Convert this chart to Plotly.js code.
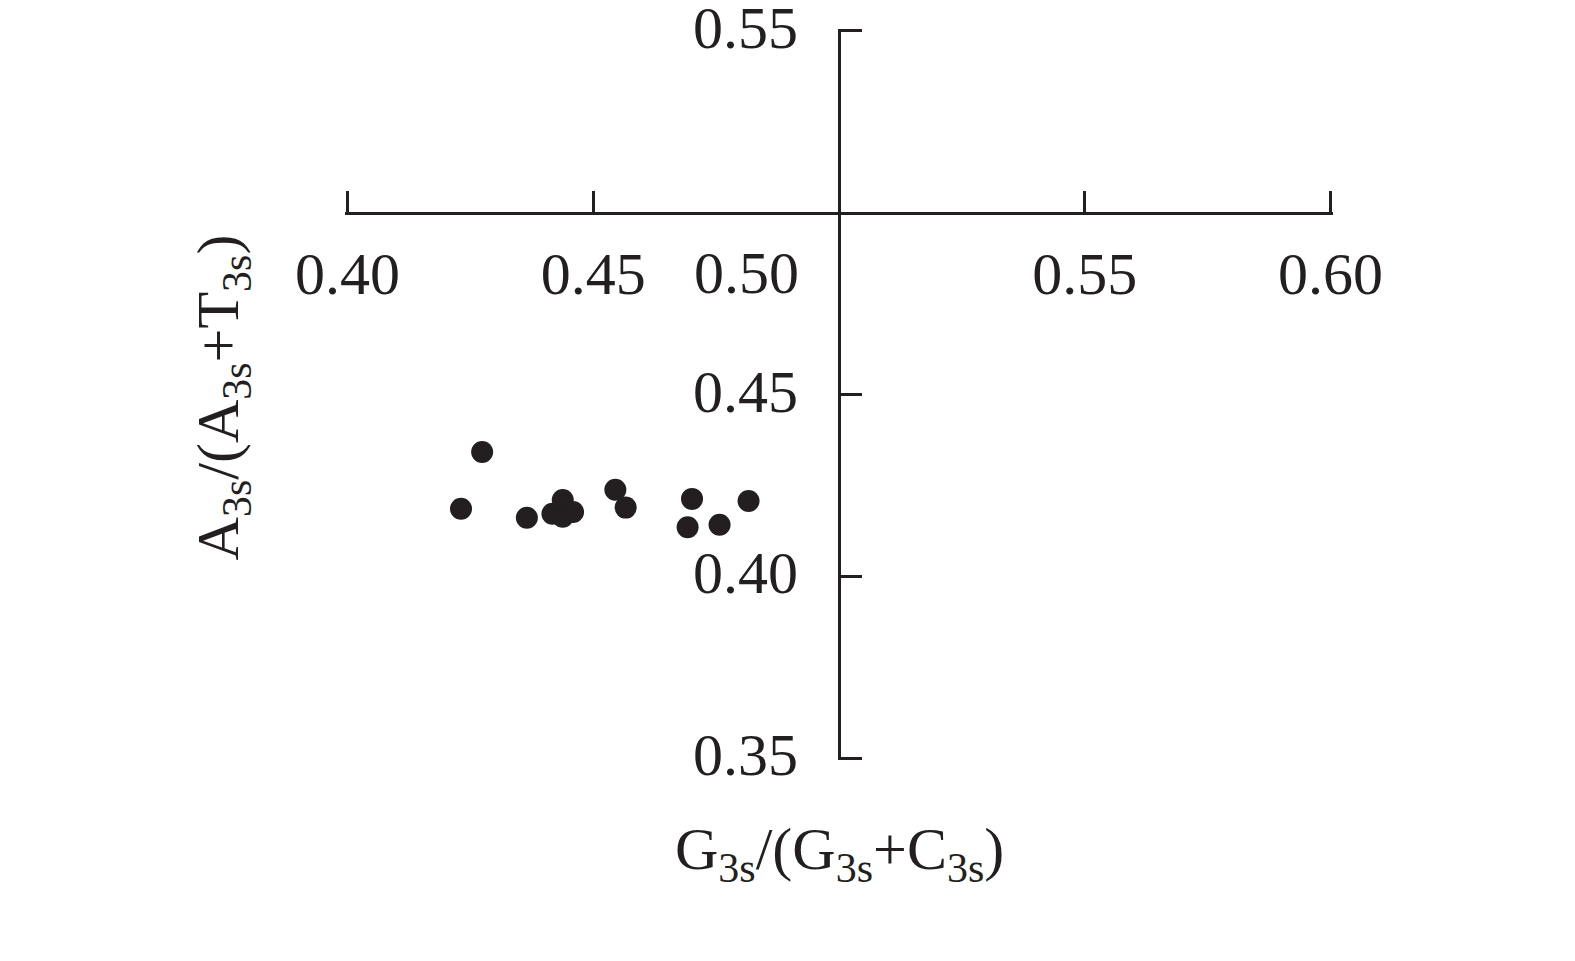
<!DOCTYPE html>
<html>
<head>
<meta charset="utf-8">
<script src="https://cdn.plot.ly/plotly-3.0.1.min.js"></script>
<style>html,body{margin:0;padding:0;background:#fff;}#chart{width:1575px;height:961px;}</style>
</head>
<body>
<div id="chart"></div>
<script>
// G3s/(G3s+C3s) values
const gcRatio = [0.4274, 0.4231, 0.4365, 0.4438, 0.4417, 0.4438, 0.4459, 0.4545, 0.4566, 0.4701, 0.4692, 0.4757, 0.4816];
// A3s/(A3s+T3s) values
const atRatio = [0.4342, 0.4186, 0.4161, 0.4210, 0.4172, 0.4164, 0.4177, 0.4238, 0.4189, 0.4213, 0.4135, 0.4142, 0.4207];
const xTickVals = [0.40, 0.45, 0.55, 0.60];
const xTickText = ['0.40', '0.45', '0.55', '0.60'];
const yTickVals = [0.35, 0.40, 0.45, 0.55];
const yTickText = ['0.35', '0.40', '0.45', '0.55'];
const centerVal = 0.50;
const centerLabel = '0.50';
const xTitle = 'G<sub>3s</sub>/(G<sub>3s</sub>+C<sub>3s</sub>)';
const yTitle = 'A<sub>3s</sub>/(A<sub>3s</sub>+T<sub>3s</sub>)';

const ink = '#231f20';
const fontFam = '"Liberation Serif", "Times New Roman", serif';

// small padding so that end ticks are not clipped by the renderer
const padX = 0.0005, padY = 0.0005;
const xRange = [xTickVals[0] - padX, xTickVals[xTickVals.length - 1] + padX];
const yRange = [yTickVals[0] - padY, yTickVals[yTickVals.length - 1] + padY];

const data = [{
  type: 'scatter',
  mode: 'markers',
  x: gcRatio,
  y: atRatio,
  marker: {size: 22, color: ink, line: {width: 0}},
  showlegend: false,
  hoverinfo: 'x+y'
}];

const layout = {
  width: 1575,
  height: 961,
  margin: {l: 344.5, r: 241.5, t: 28.5, b: 200.5, pad: 0},
  paper_bgcolor: '#fff',
  plot_bgcolor: '#fff',
  font: {family: fontFam, color: ink, size: 60},
  xaxis: {
    range: xRange,
    anchor: 'free',
    position: (centerVal - yRange[0]) / (yRange[1] - yRange[0]),
    side: 'bottom',
    showline: true, linecolor: ink, linewidth: 3,
    ticks: 'inside', ticklen: 21, tickwidth: 3, tickcolor: ink,
    tickmode: 'array', tickvals: xTickVals, ticktext: xTickText,
    tickfont: {family: fontFam, size: 60, color: ink},
    ticklabelstandoff: 7,
    ticklabeloverflow: 'allow',
    showgrid: false, zeroline: false, fixedrange: true
  },
  yaxis: {
    range: yRange,
    anchor: 'free',
    position: (centerVal - xRange[0]) / (xRange[1] - xRange[0]),
    side: 'left',
    showline: true, linecolor: ink, linewidth: 3,
    ticks: 'inside', ticklen: 21, tickwidth: 3, tickcolor: ink,
    tickmode: 'array', tickvals: yTickVals, ticktext: yTickText,
    tickfont: {family: fontFam, size: 60, color: ink},
    ticklabelstandoff: 28,
    ticklabelshift: -4,
    ticklabeloverflow: 'allow',
    showgrid: false, zeroline: false, fixedrange: true
  },
  annotations: [
    {
      xref: 'x', yref: 'y', x: centerVal, y: centerVal,
      text: centerLabel, showarrow: false,
      xanchor: 'right', yanchor: 'middle',
      xshift: -38, yshift: -60,
      font: {family: fontFam, size: 60, color: ink}
    },
    {
      xref: 'paper', yref: 'paper', x: 0.5, y: -0.128,
      text: xTitle, showarrow: false,
      xanchor: 'center', yanchor: 'middle',
      font: {family: fontFam, size: 60, color: ink}
    },
    {
      xref: 'paper', yref: 'paper', x: -0.123, y: 0.4966,
      text: yTitle, showarrow: false, textangle: -90,
      xanchor: 'center', yanchor: 'middle',
      font: {family: fontFam, size: 60, color: ink}
    }
  ]
};

Plotly.newPlot('chart', data, layout, {displayModeBar: false, staticPlot: true});
</script>
</body>
</html>
